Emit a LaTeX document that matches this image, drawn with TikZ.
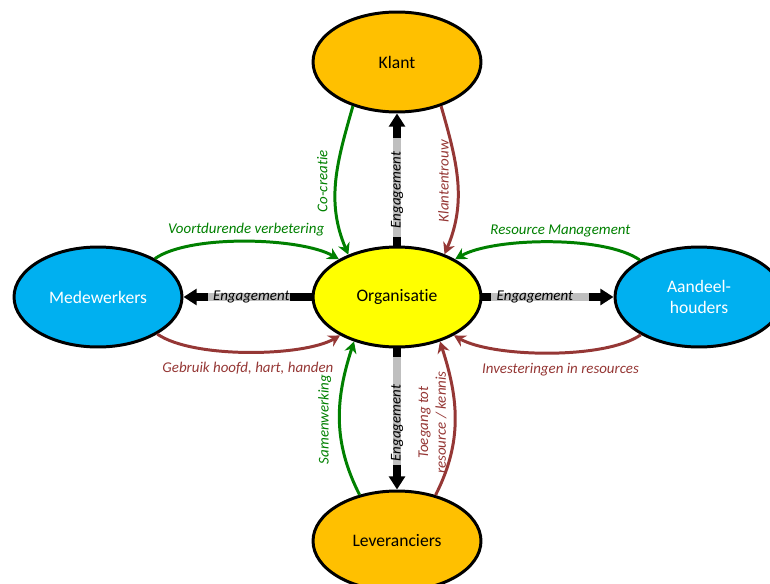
\documentclass[tikz,border=0pt]{standalone}
\usepackage{fontspec}
\setmainfont{Carlito}[Ligatures=NoCommon]
\usetikzlibrary{arrows.meta,shapes.geometric}
\definecolor{klantoranje}{HTML}{FFC000}
\definecolor{orggeel}{HTML}{FFFF00}
\definecolor{stakeblauw}{HTML}{00B0F0}
\definecolor{pijlgroen}{HTML}{008000}
\definecolor{pijlrood}{HTML}{953735}
\definecolor{enggrijs}{HTML}{BFBFBF}
\tikzset{
  party/.style={ellipse, draw=black, line width=1.7pt, minimum width=3.36cm,
    minimum height=2cm, inner sep=0pt, align=center, font=\fontsize{10}{12}\selectfont},
  lbl/.style={font=\fontsize{8.5}{10}\selectfont\itshape, inner sep=2pt},
  vlbl/.style={lbl, rotate=90, anchor=south, inner sep=4pt},
  groenpijl/.style={draw=pijlgroen, line width=1.7pt, -{Stealth[length=6.5pt,width=7pt]}},
  roodpijl/.style={draw=pijlrood, line width=1.7pt, -{Stealth[length=6.5pt,width=7pt]}},
  engpijl/.style={draw=black, line width=4pt, -{Triangle[length=7.5pt,width=9pt]}},
  engmidden/.style={draw=enggrijs, line width=4pt, shorten <=5pt, shorten >=14pt}
}
\begin{document}
\begin{tikzpicture}[x=0.02cm, y=0.02cm]
  \useasboundingbox (0,0) rectangle (770,583);
  \node[party, fill=klantoranje] (klant) at (397,521) {Klant};
  \node[party, fill=orggeel] (org) at (397,286) {Organisatie};
  \node[party, fill=klantoranje] (lev) at (397,42) {Leveranciers};
  \node[party, fill=stakeblauw, text=white] (med) at (98,286) {Medewerkers};
  \node[party, fill=stakeblauw, text=white] (aand) at (699,286) {Aandeel-\\houders};

  \draw[engpijl] (org.north) -- (klant.south);
  \draw[engmidden] (org.north) -- node[lbl, pos=0.42, rotate=90] {Engagement} (klant.south);
  \draw[engpijl] (org.south) -- (lev.north);
  \draw[engmidden] (org.south) -- node[lbl, pos=0.53, rotate=90] {Engagement} (lev.north);
  \draw[engpijl] (org.west) -- (med.east);
  \draw[engmidden, shorten <=12pt] (org.west) -- node[lbl, pos=0.47] {Engagement} (med.east);
  \draw[engpijl] (org.east) -- (aand.west);
  \draw[engmidden] (org.east) -- node[lbl, pos=0.4] {Engagement} (aand.west);

  \draw[groenpijl] (klant.225) to[out=254, in=113]
    node[vlbl, text=pijlgroen] {Co-creatie} (org.139);
  \draw[roodpijl] (klant.315) to[out=286, in=67]
    node[vlbl, text=pijlrood] {Klantentrouw} (org.42);
  \draw[groenpijl] (lev.129) to[out=117, in=252]
    node[vlbl, text=pijlgroen] {Samenwerking} (org.226);
  \draw[roodpijl] (lev.50) to[out=63, in=288]
    node[vlbl, text=pijlrood, align=center, pos=0.48] {Toegang tot\\resource / kennis} (org.314);

  \draw[groenpijl] (med.34) to[out=35, in=150, looseness=0.6]
    node[lbl, text=pijlgroen, above] {Voortdurende verbetering} (org.147);
  \draw[roodpijl] (med.328) to[out=-35, in=210, looseness=0.6]
    node[lbl, text=pijlrood, below, yshift=-3pt] {Gebruik hoofd, hart, handen} (org.214);
  \draw[groenpijl] (aand.148) to[out=145, in=30, looseness=0.6]
    node[lbl, text=pijlgroen, above, xshift=7pt] {Resource Management} (org.33);
  \draw[roodpijl] (aand.213) to[out=215, in=330, looseness=0.6]
    node[lbl, text=pijlrood, below, yshift=-3pt, xshift=7pt] {Investeringen in resources} (org.326);
\end{tikzpicture}
\end{document}
